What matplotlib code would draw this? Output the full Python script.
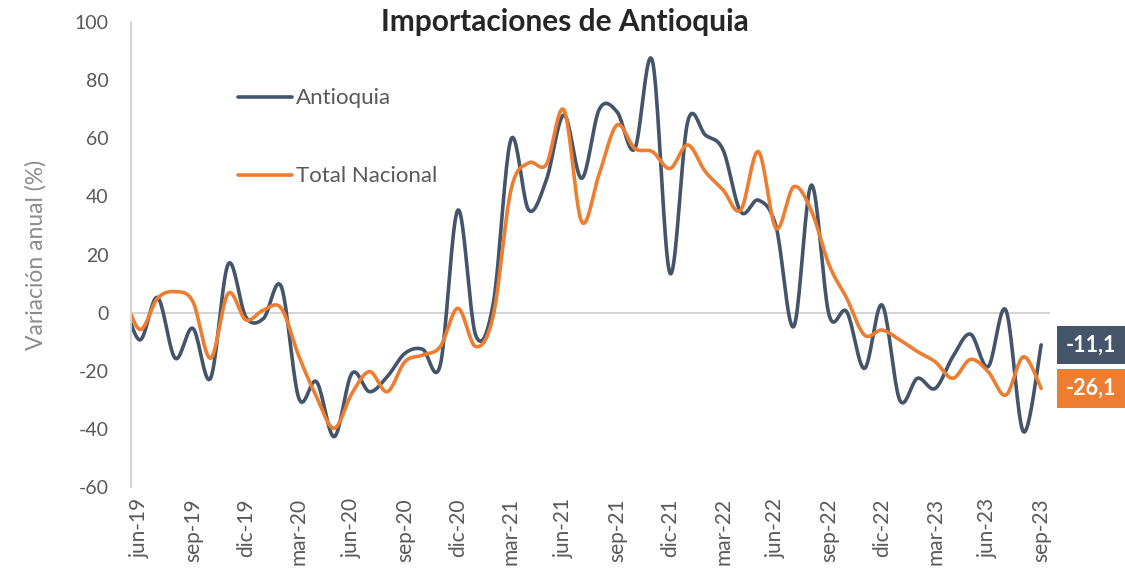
import numpy as np
import matplotlib

matplotlib.use('agg')
import matplotlib.pyplot as plt

# months from may-19 (first one is clipped at the axis) to sep-23
month_names = ['ene', 'feb', 'mar', 'abr', 'may', 'jun',
               'jul', 'ago', 'sep', 'oct', 'nov', 'dic']
months = ['may-19'] + ['%s-%d' % (month_names[(5 + i) % 12], 19 + (5 + i) // 12)
                       for i in range(52)]

antioquia = [6.0, -9.4, 5.2, -15.7, -5.4, -22.6, 16.7, -1.5, -2.0, 9.0,
             -29.5, -23.8, -42.7, -20.9, -27.2, -22.0, -14.0, -12.6, -18.0, 35.3,
             -7.7, 3.2, 59.6, 35.3, 45.6, 68.0, 46.2, 70.0, 69.1, 56.3,
             86.7, 13.5, 65.7, 61.1, 56.0, 34.7, 38.7, 29.6, -4.8, 43.9,
             -0.8, 0.3, -19.2, 2.6, -30.1, -22.6, -26.1, -15.2, -7.4, -18.6,
             0.9, -41.0, -11.1]

total_nacional = [8.0, -5.8, 4.9, 7.2, 3.8, -15.7, 6.6, -2.5, 0.9, 1.5,
                  -15.0, -29.0, -39.8, -27.8, -20.3, -27.2, -16.9, -14.6, -11.7, 1.5,
                  -11.7, -1.0, 42.2, 51.5, 51.0, 69.7, 31.3, 47.9, 64.6, 56.5,
                  55.4, 49.6, 57.7, 48.5, 42.2, 35.3, 55.4, 29.0, 43.3, 35.0,
                  16.4, 4.9, -7.7, -6.0, -9.4, -13.4, -16.9, -22.6, -16.1, -20.3,
                  -28.4, -15.2, -26.1]

yticks = [-60, -40, -20, 0, 20, 40, 60, 80, 100]

DARK = '#44546A'
ORANGE = '#ED7D31'
GRAY = '#595959'
AXIS_GRAY = '#D0D0D0'


def smooth(x, y, n=20):
    # catmull-rom curve through the points, like excel's smoothed line
    x = np.asarray(x, float)
    y = np.asarray(y, float)
    px = np.concatenate([[x[0]], x, [x[-1]]])
    py = np.concatenate([[y[0]], y, [y[-1]]])
    xs, ys = [], []
    t = np.linspace(0, 1, n, endpoint=False)
    for i in range(1, len(px) - 2):
        for p, out in ((px, xs), (py, ys)):
            p0, p1, p2, p3 = p[i - 1], p[i], p[i + 1], p[i + 2]
            out.append(0.5 * (2 * p1 + (-p0 + p2) * t
                              + (2 * p0 - 5 * p1 + 4 * p2 - p3) * t ** 2
                              + (-p0 + 3 * p1 - 3 * p2 + p3) * t ** 3))
    xs.append([x[-1]])
    ys.append([y[-1]])
    return np.concatenate(xs), np.concatenate(ys)


plt.rcParams['font.family'] = ['Lato', 'DejaVu Sans']

fig = plt.figure(figsize=(11.25, 5.7), dpi=100)
ax = fig.add_axes([131 / 1125, 1 - 487 / 570, 919 / 1125, 465 / 570])

x = np.arange(len(months)) - 1
sx, sy = smooth(x, antioquia)
ax.plot(sx, sy, color=DARK, lw=2.6, label='Antioquia', solid_capstyle='round')
sx, sy = smooth(x, total_nacional)
ax.plot(sx, sy, color=ORANGE, lw=2.6, label='Total Nacional', solid_capstyle='round')

ax.set_xlim(-0.5, 51.5)
ax.set_ylim(-60, 100)
ax.axhline(0, color=AXIS_GRAY, lw=1.3, zorder=0)

for s in ['top', 'right', 'bottom']:
    ax.spines[s].set_visible(False)
ax.spines['left'].set_color(AXIS_GRAY)
ax.spines['left'].set_linewidth(1.3)

ax.set_yticks(yticks)
ax.set_yticklabels([str(v) for v in yticks])
ax.tick_params(axis='y', length=0, pad=16, labelsize=14, labelcolor=GRAY)
ax.set_xticks(x[1::3])
ax.set_xticklabels(months[1::3], rotation=90)
ax.tick_params(axis='x', length=0, pad=8, labelsize=15, labelcolor=GRAY)

ax.set_ylabel('Variación anual (%)', fontsize=16.5, color='#8C8C8C', labelpad=20)
fig.text(565 / 1125, 1 - 22 / 570, 'Importaciones de Antioquia', ha='center',
         va='center', fontsize=21.5, fontweight='bold', color='#262626')

ax.legend(loc='upper left', bbox_to_anchor=(0.095, 0.9), frameon=False,
          labelspacing=2.6, handlelength=2.4, handletextpad=0.2,
          fontsize=16, labelcolor=GRAY)

for vals, col in ((antioquia, DARK), (total_nacional, ORANGE)):
    ax.annotate(('%.1f' % vals[-1]).replace('.', ','),
                xy=(x[-1], vals[-1]), xytext=(36, 0), textcoords='offset points',
                ha='center', va='center', fontsize=15.5, fontweight='bold',
                color='white', annotation_clip=False,
                bbox=dict(boxstyle='square,pad=0.4', fc=col, ec='none'))

fig.savefig('out.png', dpi=100)
